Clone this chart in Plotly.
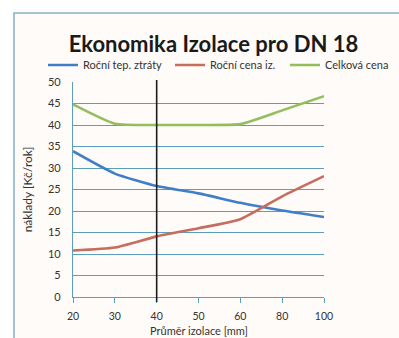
import plotly.graph_objects as go

# Insulation thickness categories (mm)
diameters = ["20", "30", "40", "50", "60", "80", "100"]

# Annual costs [Kč/rok]
heat_loss = [33.9, 28.7, 25.8, 24.1, 21.9, 20.1, 18.6]
insulation_cost = [10.8, 11.5, 14.1, 16.0, 18.1, 23.4, 28.1]
total_cost = [44.8, 40.3, 40.0, 40.0, 40.2, 43.4, 46.7]

series_names = ["Roční tep. ztráty", "Roční cena iz.", "Celková cena"]
series_colors = ["#3f7fca", "#c66d5e", "#93bf5a"]

y_ticks = [0, 5, 10, 15, 20, 25, 30, 35, 40, 45, 50]
optimum = "40"

font_family = "Lato, 'Open Sans', sans-serif"
grid_color = "#5b9fbd"
text_color = "#333333"

W, H = 399, 338
ml, mr, mt, mb = 73, 75, 82, 41
pw, ph = W - ml - mr, H - mt - mb

def px_x(p):
    return (p - ml) / pw

def px_y(p):
    return (H - mb - p) / ph

# one legend box per series, laid out in a single row
legend_ids = ["legend", "legend2", "legend3"]
legend_left_px = [43, 170, 285]

fig = go.Figure()
for name, values, color, lid in zip(series_names, [heat_loss, insulation_cost, total_cost],
                                    series_colors, legend_ids):
    fig.add_trace(go.Scatter(
        x=diameters, y=values, name=name, mode="lines", legend=lid,
        line=dict(color=color, width=2.6, shape="spline", smoothing=0.5),
    ))

# category axes place shapes by index
optimum_idx = diameters.index(optimum)

shapes = [
    # outer chart frame
    dict(type="rect", xref="paper", yref="paper",
         x0=px_x(14), x1=px_x(420), y0=px_y(360), y1=px_y(13),
         fillcolor="#fffbf9", line=dict(color="#86aec4", width=1.5), layer="below"),
    # marker line at the chosen thickness
    dict(type="line", xref="x", yref="paper",
         x0=optimum_idx, x1=optimum_idx, y0=px_y(302), y1=px_y(80),
         line=dict(color="#1c1c1c", width=1.6)),
]

legend_style = dict(orientation="h", xanchor="left", xref="container",
                    y=1 - 65 / H, yanchor="middle", yref="container",
                    font=dict(size=11, color=text_color),
                    bgcolor="rgba(0,0,0,0)", itemwidth=30)

fig.update_layout(
    width=W, height=H,
    margin=dict(l=ml, r=mr, t=mt, b=mb, autoexpand=False),
    paper_bgcolor="white",
    plot_bgcolor="#fffbf9",
    font=dict(family=font_family, color=text_color),
    title=dict(text="<b>Ekonomika Izolace pro DN 18</b>",
               font=dict(size=22, color="#1a1a1a", family=font_family),
               x=0.535, xanchor="center", xref="container",
               y=1 - 44 / H, yanchor="middle", yref="container"),
    shapes=shapes,
    showlegend=True,
    annotations=[
        # x-axis title, sitting low against the bottom edge
        dict(text="Průměr izolace [mm]", xref="paper", yref="paper",
             x=0.5, y=px_y(330), xanchor="center", yanchor="middle",
             showarrow=False, font=dict(size=11, color=text_color)),
    ],
)
for lid, left in zip(legend_ids, legend_left_px):
    fig.update_layout({lid: dict(legend_style, x=left / W)})

fig.update_xaxes(
    type="category", categoryorder="array", categoryarray=diameters,
    range=[0, len(diameters) - 1], automargin=False,
    showgrid=False, showline=True, linecolor=grid_color, linewidth=1.3,
    ticks="outside", ticklen=5, tickcolor=grid_color, tickwidth=1,
    ticklabelstandoff=4,
    tickfont=dict(size=10.5, color=text_color),
    zeroline=False,
)
fig.update_yaxes(
    range=[0, 50], tickvals=y_ticks, automargin=False,
    showgrid=True, gridcolor=grid_color, gridwidth=1.3,
    showline=True, linecolor=grid_color, linewidth=1.3,
    ticks="", ticklabelstandoff=9,
    tickfont=dict(size=11, color=text_color),
    title=dict(text="náklady [Kč/rok]", font=dict(size=12, color=text_color), standoff=12),
    zeroline=False,
)

fig.write_html("out.html")
